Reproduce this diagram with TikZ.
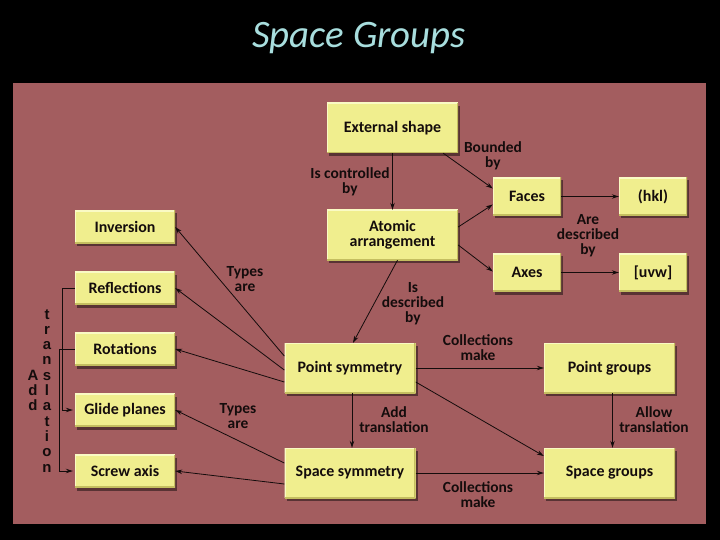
\documentclass[tikz,border=0pt]{standalone}
\usepackage{fontspec}
\setmainfont{Carlito}
\newfontfamily\letfont{Liberation Sans}
\usetikzlibrary{arrows.meta,shadows,calc}
\definecolor{panel}{RGB}{163,93,95}
\definecolor{boxy}{RGB}{240,238,142}
\definecolor{boxlight}{RGB}{250,250,196}
\definecolor{boxdark}{RGB}{196,190,96}
\definecolor{titlec}{RGB}{168,222,222}
\definecolor{ink}{RGB}{20,12,12}
\tikzset{
  box/.style={rectangle, fill=boxy, inner sep=0pt, text=ink,
    font=\bfseries\fontsize{16}{15}\selectfont, align=center,
    drop shadow={shadow xshift=2bp, shadow yshift=-3bp, opacity=0.45, fill=black},
    path picture={
      \draw[boxlight, line width=2.5bp] (path picture bounding box.south west) -- (path picture bounding box.north west) -- (path picture bounding box.north east);
      \draw[boxdark, line width=2.5bp] (path picture bounding box.north east) -- (path picture bounding box.south east) -- (path picture bounding box.south west);
    }},
  big/.style={box, minimum width=131bp, minimum height=50bp},
  small/.style={box, minimum width=68bp, minimum height=38bp},
  side/.style={box, minimum width=100bp, minimum height=33bp},
  lbl/.style={text=ink, font=\bfseries\fontsize{15.5}{15}\selectfont, align=center, inner sep=0pt},
  con/.style={draw=ink, line width=0.8bp, -{Stealth[length=7bp,width=4.5bp]}},
  vlet/.style={text=ink, font=\letfont\bfseries\fontsize{15}{15}\selectfont, inner sep=0pt, anchor=base},
}
\begin{document}
\begin{tikzpicture}[x=1bp,y=-1bp]
\useasboundingbox (0,0) rectangle (720,540);
\fill[black] (0,0) rectangle (720,540);
\fill[panel] (13,83) rectangle (706,524);
\node[anchor=base, text=titlec, font=\itshape\fontsize{39}{40}\selectfont] (title) at (359,48) {Space Groups};

% boxes
\node[big] (ext) at (392.5,128) {External shape};
\node[big] (atom) at (392.5,235) {Atomic\\arrangement};
\node[small] (faces) at (527,196.5) {Faces};
\node[small] (hkl) at (653,196.5) {(hkl)};
\node[small] (axes) at (527,272.5) {Axes};
\node[small] (uvw) at (653,272.5) {[uvw]};
\node[side] (inv) at (125,227) {Inversion};
\node[side] (refl) at (125,288) {Reflections};
\node[side] (rot) at (125,349) {Rotations};
\node[side] (glide) at (125,410) {Glide planes};
\node[side] (screw) at (125,471) {Screw axis};
\node[big] (psym) at (350,368) {Point symmetry};
\node[big] (pgrp) at (609.5,368) {Point groups};
\node[big] (ssym) at (350,473) {Space symmetry};
\node[big] (sgrp) at (609.5,473) {Space groups};

% connectors
\draw[con] (ext) -- (atom);
\draw[con] ([xshift=-15bp]ext.south east) -- ([yshift=8bp]faces.west);
\draw[con] ([yshift=8bp]atom.east) -- ([yshift=-8bp]faces.west);
\draw[con] ([yshift=-10bp]atom.east) -- ([yshift=1bp]axes.west);
\draw[con] (faces) -- (hkl);
\draw[con] (axes) -- (uvw);
\draw[con] ([xshift=5bp]atom.south) -- ([xshift=3bp]psym.north);
\draw[con] (psym) -- (pgrp);
\draw[con] ([xshift=2bp]psym.south) -- ([xshift=2bp]ssym.north);
\draw[con] ([yshift=-14bp]psym.east) -- ([yshift=17bp]sgrp.west);
\draw[con] ([xshift=3bp]pgrp.south) -- ([xshift=3bp]sgrp.north);
\draw[con] (ssym) -- (sgrp);
\draw[con] ([yshift=12bp]psym.west) -- (inv.east);
\draw[con] ([yshift=-2bp]psym.west) -- (refl.east);
\draw[con] ([yshift=-14bp]psym.west) -- (rot.east);
\draw[con] ([yshift=10bp]ssym.west) -- (glide.east);
\draw[con] ([yshift=-11bp]ssym.west) -- (screw.east);
\coordinate (b1) at (62,300);
\coordinate (b2) at (59,300);
\draw[con] (refl.west) -- (refl.west -| b1) |- ([xshift=-2bp]glide.west);
\draw[con] (rot.west) -- (rot.west -| b2) |- ([xshift=-2bp]screw.west);

% labels
\node[lbl] (l1) at (350,182) {Is controlled\\by};
\node[lbl] (l2) at (493,156) {Bounded\\by};
\node[lbl] (l3) at (588,236) {Are\\described\\by};
\node[lbl] (l4) at (413,304) {Is\\described\\by};
\node[lbl] (l5) at (245,279.5) {Types\\are};
\node[lbl] (l6) at (238,416) {Types\\are};
\node[lbl] (l7) at (478,347.5) {Collections\\make};
\node[lbl] (l8) at (394,419.5) {Add\\translation};
\node[lbl] (l9) at (654,419.5) {Allow\\translation};
\node[lbl] (l10) at (478,494.5) {Collections\\make};

% vertical text
\foreach \c [count=\i from 0] in {t,r,a,n,s,l,a,t,i,o,n}
  \node[vlet] (tr\i) at (47,{319+15.3*\i}) {\c};
\foreach \c [count=\i from 0] in {A,d,d}
  \node[vlet] (ad\i) at (33,{380+15*\i}) {\c};
\end{tikzpicture}
\end{document}
